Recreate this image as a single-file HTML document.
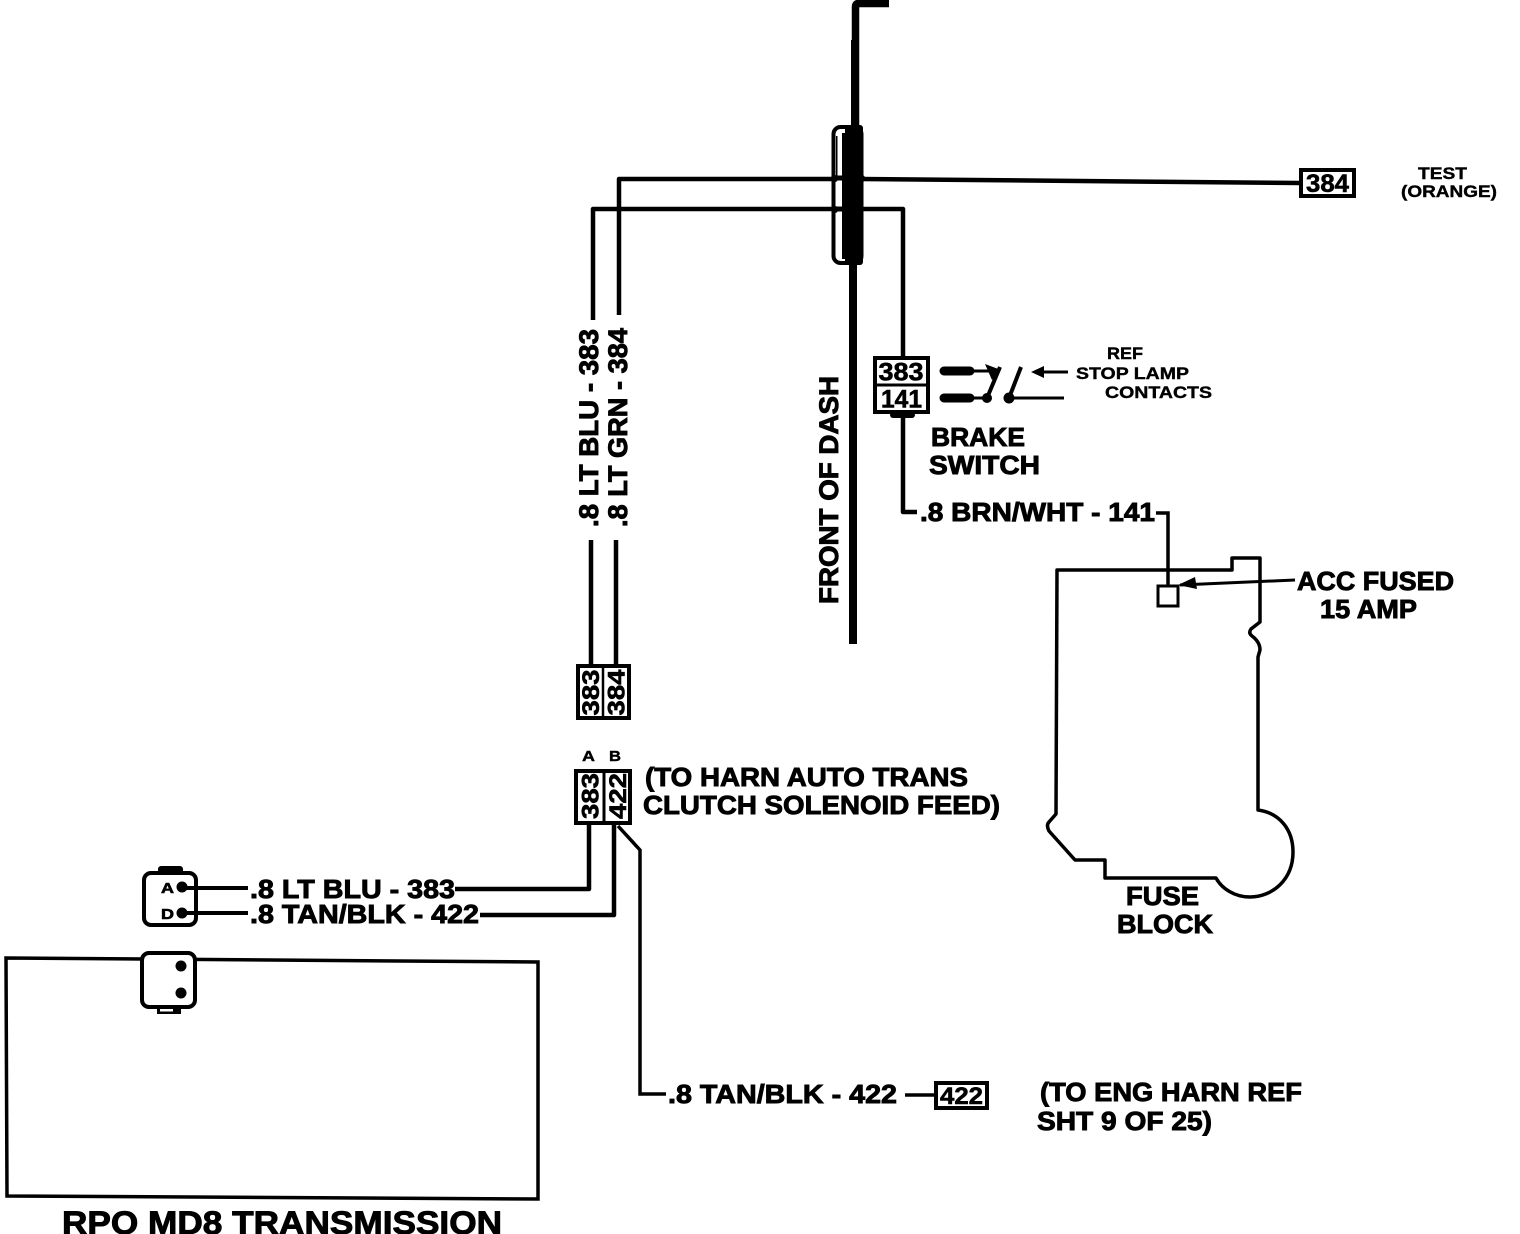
<!DOCTYPE html>
<html><head><meta charset="utf-8"><style>
html,body{margin:0;padding:0;background:#fff}
svg{display:block}
text{font-family:"Liberation Sans",sans-serif;font-weight:bold;fill:#000;stroke:#000;stroke-width:.9}
.w{fill:none;stroke:#000;stroke-width:4.5;stroke-linejoin:round}
.b{fill:#fff;stroke:#000;stroke-width:4}
.s{stroke-width:.4}
.d{stroke-width:.6}
</style></head><body>
<svg width="1520" height="1234" viewBox="0 0 1520 1234" xmlns="http://www.w3.org/2000/svg">
<rect width="1520" height="1234" fill="#fff"/>

<!-- Dash -->
<path d="M889 3.5H858Q855.500 3.500 855.500 7V125" fill="none" stroke="#000" stroke-width="7.5"/>
<rect x="851" y="40" width="8" height="90"/>
<rect x="849" y="260" width="8" height="384"/>
<!-- Wires through dash -->
<path class="w" d="M593 320V209H903V358"/>
<path class="w" d="M619 315V179L860 179L1300 183"/>
<!-- Grommet -->
<rect x="833.500" y="127" width="28" height="136" rx="7" fill="#fff" stroke="#000" stroke-width="4"/>
<rect x="845" y="125" width="18" height="140" rx="3"/>
<rect x="842" y="133" width="4" height="126"/>
<rect x="836" y="136" width="1.500" height="40"/>
<path d="M832 178h14M832 209h14" stroke="#000" stroke-width="5"/>
<rect x="831" y="175" width="7" height="7" rx="3"/><rect x="831" y="206" width="7" height="7" rx="3"/>
<rect x="859" y="175" width="6" height="7" rx="3"/>

<!-- 384 TEST -->
<rect x="1301" y="170" width="53" height="26" class="b"/>
<text x="1306" y="192" font-size="25" textLength="43" lengthAdjust="spacingAndGlyphs" class="d">384</text>
<text x="1418" y="179" font-size="17" textLength="49" lengthAdjust="spacingAndGlyphs" class="s">TEST</text>
<text x="1401" y="197" font-size="17" textLength="96" lengthAdjust="spacingAndGlyphs" class="s">(ORANGE)</text>

<!-- Vertical labels -->
<text transform="translate(598,527) rotate(-90)" font-size="27" textLength="198" lengthAdjust="spacingAndGlyphs">.8 LT BLU - 383</text>
<text transform="translate(627,527) rotate(-90)" font-size="27" textLength="199" lengthAdjust="spacingAndGlyphs">.8 LT GRN - 384</text>
<text transform="translate(838,604) rotate(-90)" font-size="27" textLength="228" lengthAdjust="spacingAndGlyphs">FRONT OF DASH</text>
<path class="w" d="M591 540V666M616 540V666"/>

<!-- Upper connector -->
<rect x="578" y="666" width="51" height="52" class="b"/>
<path d="M603 666V718" stroke="#000" stroke-width="2.500"/>
<text transform="translate(599,715.500) rotate(-90)" font-size="24.500" textLength="46" lengthAdjust="spacingAndGlyphs" class="d">383</text>
<text transform="translate(624.500,715.500) rotate(-90)" font-size="24.500" textLength="46" lengthAdjust="spacingAndGlyphs" class="d">384</text>

<!-- Lower connector -->
<text x="582" y="761" font-size="15" textLength="13" lengthAdjust="spacingAndGlyphs" class="s">A</text>
<text x="609" y="761" font-size="15" textLength="12" lengthAdjust="spacingAndGlyphs" class="s">B</text>
<rect x="576" y="771" width="54" height="52" class="b"/>
<path d="M604 770V824" stroke="#000" stroke-width="3"/>
<text transform="translate(598.500,819) rotate(-90)" font-size="24.500" textLength="46" lengthAdjust="spacingAndGlyphs" class="d">383</text>
<text transform="translate(626,819) rotate(-90)" font-size="24.500" textLength="46" lengthAdjust="spacingAndGlyphs" class="d">422</text>
<text x="645" y="786" font-size="26" textLength="323" lengthAdjust="spacingAndGlyphs">(TO HARN AUTO TRANS</text>
<text x="643" y="814" font-size="26" textLength="357" lengthAdjust="spacingAndGlyphs">CLUTCH SOLENOID FEED)</text>

<!-- Wires from lower connector -->
<path class="w" d="M589 824V889H455"/>
<path class="w" d="M614 824V915H480"/>
<path fill="none" stroke="#000" stroke-width="3.500" d="M618 826L640 850V1094H666"/>

<!-- Left connector -->
<rect x="158" y="866" width="25" height="10" rx="3"/>
<rect x="144" y="873" width="52" height="52" rx="7" class="b"/>
<text x="161" y="893" font-size="15" textLength="13" lengthAdjust="spacingAndGlyphs" class="d">A</text>
<text x="161" y="919" font-size="15" textLength="13" lengthAdjust="spacingAndGlyphs" class="d">D</text>
<circle cx="182" cy="887" r="5.500"/><circle cx="182" cy="913" r="5.500"/>
<path stroke="#000" stroke-width="4" d="M182 888H248M182 913H248"/>
<text x="250" y="898" font-size="26" textLength="205" lengthAdjust="spacingAndGlyphs">.8 LT BLU - 383</text>
<text x="250" y="923" font-size="26" textLength="229" lengthAdjust="spacingAndGlyphs">.8 TAN/BLK - 422</text>

<!-- Transmission -->
<path fill="none" stroke="#000" stroke-width="3.500" d="M6 958L538 962V1199L7 1196Z"/>
<rect x="157" y="1006" width="24" height="8"/>
<rect x="160" y="1009" width="13" height="2.500" fill="#fff"/>
<rect x="142" y="953" width="53" height="54" rx="7" class="b"/>
<circle cx="181" cy="966" r="5.500"/><circle cx="181" cy="993" r="5.500"/>
<text x="62" y="1234" font-size="32" textLength="440" lengthAdjust="spacingAndGlyphs">RPO MD8 TRANSMISSION</text>

<!-- 422 ref -->
<text x="668" y="1103" font-size="26" textLength="229" lengthAdjust="spacingAndGlyphs">.8 TAN/BLK - 422</text>
<path stroke="#000" stroke-width="3.500" d="M905 1095H936"/>
<rect x="936" y="1083" width="51" height="25" class="b"/>
<text x="940" y="1104" font-size="24" textLength="43" lengthAdjust="spacingAndGlyphs" class="d">422</text>
<text x="1040" y="1101" font-size="26" textLength="262" lengthAdjust="spacingAndGlyphs">(TO ENG HARN REF</text>
<text x="1037" y="1130" font-size="26" textLength="175" lengthAdjust="spacingAndGlyphs">SHT 9 OF 25)</text>

<!-- Brake switch -->
<rect x="875" y="358" width="53" height="54" class="b"/>
<path d="M875 385H930" stroke="#000" stroke-width="3"/>
<text x="878.500" y="380.500" font-size="25" textLength="45" lengthAdjust="spacingAndGlyphs" class="d">383</text>
<text x="881" y="407.500" font-size="25" textLength="41" lengthAdjust="spacingAndGlyphs" class="d">141</text>
<rect x="890" y="412" width="25" height="6" rx="3"/>
<path class="w" d="M903 416V512H917"/>
<path stroke="#000" stroke-width="9" stroke-linecap="round" d="M944 371H970M944 398H970"/>
<path stroke="#000" stroke-width="3" d="M970 371H990M970 398H987"/>
<path d="M985 364L1001 370L992 380Z"/>
<circle cx="987" cy="398" r="5"/><circle cx="1009" cy="398" r="5.500"/>
<path stroke="#000" stroke-width="4" fill="none" d="M1000 367L987 398M1021 367L1009 398"/>
<path stroke="#000" stroke-width="3" fill="none" d="M1009 398H1064M1040 372H1068"/>
<path d="M1031 372L1044 366V378Z"/>
<text x="1107" y="359" font-size="17" textLength="36" lengthAdjust="spacingAndGlyphs" class="s">REF</text>
<text x="1076" y="379" font-size="17" textLength="113" lengthAdjust="spacingAndGlyphs" class="s">STOP LAMP</text>
<text x="1105" y="398" font-size="17" textLength="107" lengthAdjust="spacingAndGlyphs" class="s">CONTACTS</text>
<text x="931" y="446" font-size="26" textLength="94" lengthAdjust="spacingAndGlyphs">BRAKE</text>
<text x="929" y="474" font-size="26" textLength="111" lengthAdjust="spacingAndGlyphs">SWITCH</text>
<text x="920" y="521" font-size="26" textLength="235" lengthAdjust="spacingAndGlyphs">.8 BRN/WHT - 141</text>
<path fill="none" stroke="#000" stroke-width="3.500" d="M1156 513H1168V586"/>

<!-- Fuse block -->
<path fill="none" stroke="#000" stroke-width="3.500" stroke-linejoin="round" d="M1057 570H1232V558H1260V622L1251 629Q1248 633 1252 636Q1260 642 1260 650L1258 657V810C1280 813 1293 830 1293 852C1293 880 1272 897 1250 897C1235 897 1222 889 1216 878H1105V860H1075L1049 831Q1046 825 1049 822L1056 814Z"/>
<rect x="1158" y="586" width="20" height="20" fill="#fff" stroke="#000" stroke-width="3"/>
<path stroke="#000" stroke-width="3" d="M1180 585L1295 580"/>
<path d="M1178 585L1195 577L1197 589Z"/>
<text x="1297" y="590" font-size="26" textLength="157" lengthAdjust="spacingAndGlyphs">ACC FUSED</text>
<text x="1320" y="618" font-size="26" textLength="97" lengthAdjust="spacingAndGlyphs">15 AMP</text>
<text x="1126" y="905" font-size="26" textLength="73" lengthAdjust="spacingAndGlyphs">FUSE</text>
<text x="1117" y="933" font-size="26" textLength="96" lengthAdjust="spacingAndGlyphs">BLOCK</text>
</svg>
</body></html>
